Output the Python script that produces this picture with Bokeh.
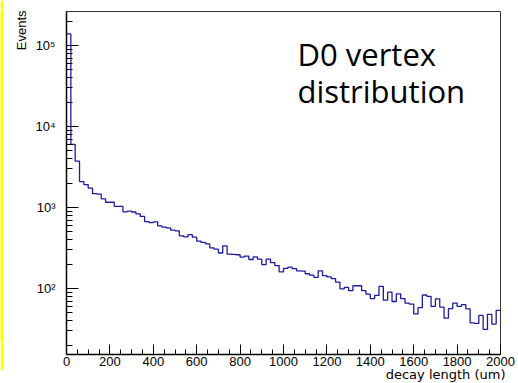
import numpy as np
from bokeh.plotting import figure
from bokeh.models import Range1d, Label, Title, CustomJSTickFormatter, LogTicker, FixedTicker
from bokeh.layouts import row
from bokeh.embed import file_html
from bokeh.resources import INLINE

# histogram: 100 bins of 20 um from 0 to 2000 um
bin_lo = 0
bin_hi = 2000
n_bins = 100
counts = [
    139000, 6000, 3730, 2090, 1920, 1730, 1480, 1460, 1280, 1160,
    1160, 1030, 1030, 885, 900, 880, 835, 775, 668, 650,
    665, 592, 571, 560, 525, 515, 447, 434, 462, 430,
    384, 370, 356, 318, 306, 274, 336, 265, 263, 261,
    244, 251, 228, 245, 230, 197, 230, 208, 192, 160,
    177, 183, 176, 165, 164, 152, 146, 137, 165, 144,
    139, 132, 120, 99, 103, 94, 108, 108, 94, 85,
    75, 82, 106, 72, 90, 69, 86, 75, 66, 64,
    48.5, 58, 83, 80, 60, 74.5, 59, 43, 56.5, 66,
    60, 63, 56, 37.5, 37, 46.5, 31.2, 48, 36.3, 53.5,
]
x_ticks = [0, 200, 400, 600, 800, 1000, 1200, 1400, 1600, 1800, 2000]
x_minor = list(range(0, 2001, 50))
y_min, y_max = 15.3, 263000
title_lines = ["D0 vertex", "distribution"]
x_title = "decay length (um)"
y_title = "Events"

edges = np.linspace(bin_lo, bin_hi, n_bins + 1)
ys = list(counts) + [counts[-1]]

STRIP = 3
W, H = 518 - STRIP, 383
BL, BR, BT, BB = 63, 18, 11, 29
FW, FH = W - BL - BR, H - BT - BB
FX0 = STRIP + BL  # frame left in page pixels
FY1 = BT + FH     # frame bottom in page pixels


def dx(px):
    """page pixel x -> data x"""
    return bin_lo + (px - FX0) / FW * (bin_hi - bin_lo)


def dy(py):
    """page pixel y -> data y (log scale)"""
    lo, hi = np.log10(y_min), np.log10(y_max)
    return 10 ** (lo + (FY1 - py) / FH * (hi - lo))


p = figure(width=W, height=H, output_backend="svg", toolbar_location=None,
           y_axis_type="log", x_range=Range1d(bin_lo, bin_hi),
           y_range=Range1d(y_min, y_max),
           min_border_left=BL, min_border_right=BR, min_border_top=BT, min_border_bottom=BB)
p.grid.visible = False
p.outline_line_color = "#333333"
p.outline_line_width = 1
p.background_fill_color = "white"
p.border_fill_color = "white"

p.step(x=edges, y=ys, mode="after", line_color="#1c1ca0", line_width=1.3)

font = "Liberation Sans"
xa = p.xaxis[0]
xa.ticker = FixedTicker(ticks=x_ticks, minor_ticks=x_minor)
xa.major_tick_in = 10
xa.major_tick_out = 0
xa.minor_tick_in = 5
xa.minor_tick_out = 0
xa.major_label_standoff = 2
ya = p.yaxis[0]
ya.ticker = LogTicker(num_minor_ticks=10)
ya.major_tick_in = 12
ya.major_tick_out = 0
ya.minor_tick_in = 6
ya.minor_tick_out = 0
ya.major_label_standoff = 11
ya.formatter = CustomJSTickFormatter(code="""
const sup = {'0':'\u2070','1':'\u00b9','2':'\u00b2','3':'\u00b3','4':'\u2074','5':'\u2075','6':'\u2076','7':'\u2077','8':'\u2078','9':'\u2079','-':'\u207b'};
const e = String(Math.round(Math.log10(tick)));
return '10' + e.split('').map(c => sup[c]).join('');
""")
for ax in (xa, ya):
    ax.axis_line_color = "black"
    ax.axis_line_width = 1.5
    ax.major_tick_line_color = "black"
    ax.minor_tick_line_color = "black"
    ax.major_label_text_font = font
    ax.major_label_text_font_size = "13px"
    ax.major_label_text_color = "black"

# axis titles, ROOT style: at the far end of each axis
p.add_layout(Title(text=x_title, align="right", vertical_align="top", offset=-5, standoff=-3,
                   text_font="DejaVu Sans", text_font_size="13px",
                   text_font_style="normal", text_color="black"), "below")
p.add_layout(Title(text=y_title, align="right", vertical_align="bottom", offset=-1, standoff=8,
                   text_font=font, text_font_size="13px",
                   text_font_style="normal", text_color="black"), "left")

p.add_layout(Label(x=dx(297), y=dy(53), text=title_lines[0],
                   text_align="left", text_baseline="alphabetic",
                   text_font="Open Sans", text_font_size="31px", text_color="black"))
p.add_layout(Label(x=dx(297), y=dy(90), text=title_lines[1],
                   text_align="left", text_baseline="alphabetic",
                   text_font="Open Sans", text_font_size="31px", text_color="black"))

strip = figure(width=STRIP, height=370, output_backend="svg", toolbar_location=None,
               min_border=0, x_axis_location=None, y_axis_location=None,
               background_fill_color="#ffff00", border_fill_color="#ffff00",
               outline_line_color=None)
strip.grid.visible = False
layout = row(strip, p, spacing=0)
open("out.html", "w").write(file_html(layout, INLINE))
